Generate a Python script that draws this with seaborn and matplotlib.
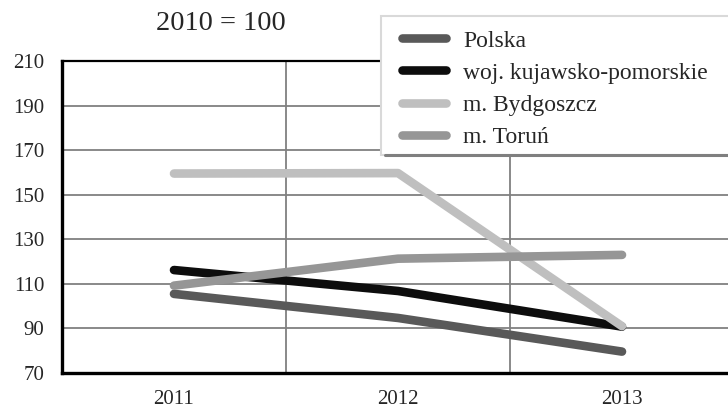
import matplotlib
matplotlib.use("Agg")
import matplotlib.pyplot as plt
import seaborn as sns
import pandas as pd
from matplotlib.lines import Line2D
from matplotlib.patches import Rectangle

years = ["2011", "2012", "2013"]
polska = [105.5, 94.7, 79.6]
kujawsko = [116.2, 106.8, 90.8]
bydgoszcz = [159.5, 159.7, 91.0]
torun = [109.2, 121.3, 123.0]
series_names = ["Polska", "woj. kujawsko-pomorskie", "m. Bydgoszcz", "m. Toruń"]
y_ticks = [70, 90, 110, 130, 150, 170, 190, 210]

colors = ["#595959", "#0d0d0d", "#bfbfbf", "#969696"]

rows = []
for name, vals in zip(series_names, [polska, kujawsko, bydgoszcz, torun]):
    for i, v in enumerate(vals):
        rows.append({"x": i, "rok": years[i], "seria": name, "wartosc": v})
df = pd.DataFrame(rows)

sns.set_style("white")
plt.rcParams["font.family"] = ["Liberation Serif", "DejaVu Serif"]

fig = plt.figure(figsize=(7.28, 4.08), dpi=100)
W, H = 728, 408
ax = fig.add_axes([62 / W, 1 - 373 / H, (734 - 62) / W, (373 - 61) / H])

sns.lineplot(data=df, x="x", y="wartosc", hue="seria", palette=colors,
             hue_order=series_names, linewidth=6.2, ax=ax, legend=False,
             solid_capstyle="round", sort=False)

ax.set_xlim(-0.5, 2.5)
ax.set_ylim(70, 210)
ax.set_yticks(y_ticks)
ax.set_yticklabels([str(t) for t in y_ticks], fontsize=15)
ax.set_xticks(range(len(years)))
ax.set_xticklabels(years, fontsize=15)
ax.tick_params(axis="x", length=0, pad=12)
ax.tick_params(axis="y", length=3.6, width=2, color="black", direction="out", pad=9)
ax.set_xlabel("")
ax.set_ylabel("")

# horizontal grid at every tick, vertical grid between categories
for t in y_ticks[1:-1]:
    ax.axhline(t, color="#808080", linewidth=1.3, zorder=0)
for xb in [0.5, 1.5]:
    ax.axvline(xb, color="#808080", linewidth=1.3, zorder=0)

for side in ["left", "bottom"]:
    ax.spines[side].set_color("black")
    ax.spines[side].set_linewidth(2.4)
ax.spines["top"].set_color("black")
ax.spines["top"].set_linewidth(1.6)
ax.spines["right"].set_visible(False)

fig.text(221 / W, 1 - 23 / H, "2010 = 100", fontsize=20.5, ha="center", va="center")

# legend box: white panel with light border and darker bottom edge
box = Rectangle((381 / W, 1 - 155 / H), (745 - 381) / W, (155 - 16) / H,
                transform=fig.transFigure, facecolor="white",
                edgecolor="#d9d9d9", linewidth=1.5, zorder=4)
fig.add_artist(box)
fig.add_artist(Line2D([385 / W, 1.0], [1 - 155 / H, 1 - 155 / H],
                      transform=fig.transFigure, color="#7f7f7f",
                      linewidth=2.2, zorder=4.5))

handles = [Line2D([0], [0], color=c, linewidth=6.2) for c in colors]
leg = fig.legend(handles, series_names, loc="upper left",
                 bbox_to_anchor=(395 / W, 1 - 23 / H), fontsize=17,
                 frameon=False, handlelength=1.85, handletextpad=0.75,
                 labelspacing=0.45, borderpad=0.3, borderaxespad=0)
leg.set_zorder(5)

fig.savefig("out.png", dpi=100)
